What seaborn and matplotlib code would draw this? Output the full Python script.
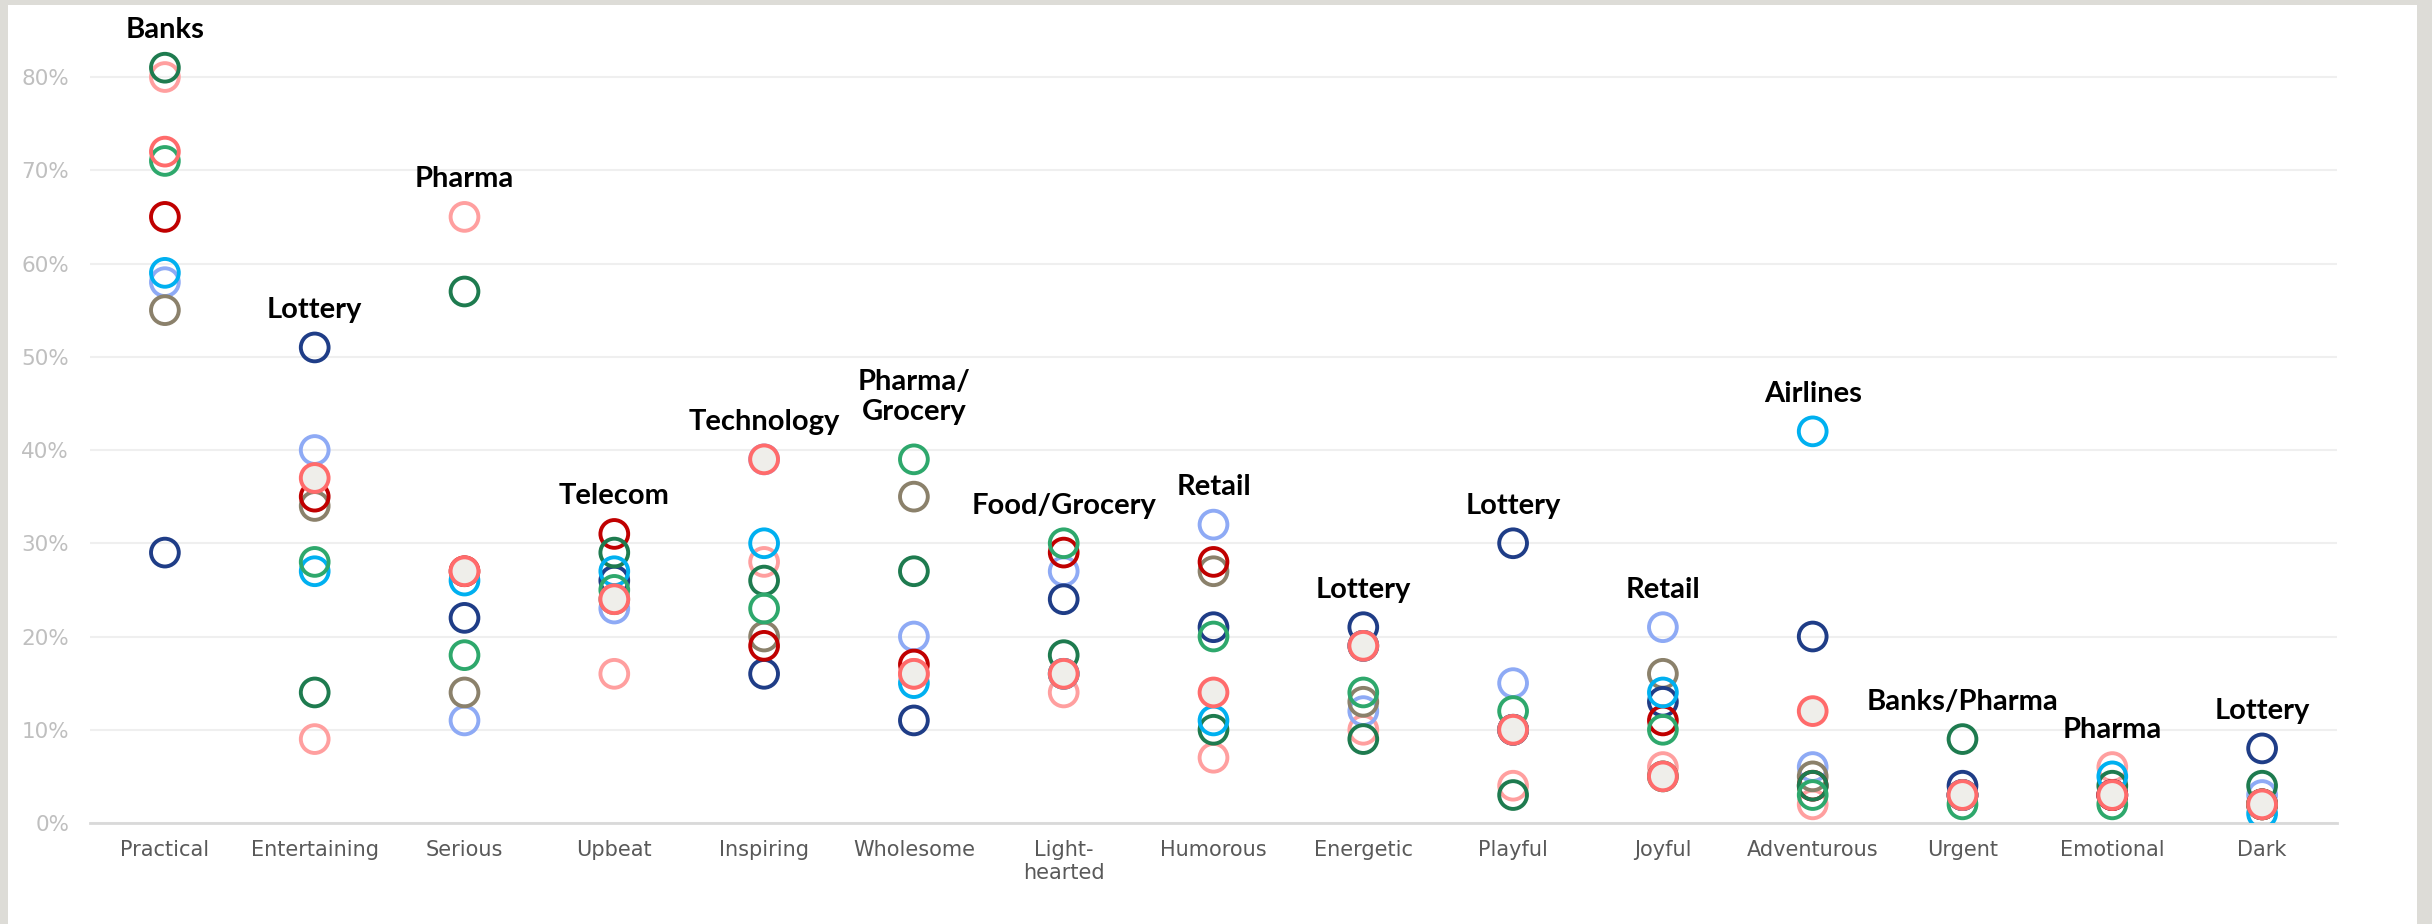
import numpy as np
import pandas as pd
import matplotlib
matplotlib.use("Agg")
import matplotlib.pyplot as plt
from matplotlib.patches import Rectangle
from matplotlib.ticker import PercentFormatter
import matplotlib.colors as mcolors
import seaborn as sns

# Personality traits on the x axis
traits = ["Practical", "Entertaining", "Serious", "Upbeat", "Inspiring", "Wholesome",
          "Light-\nhearted", "Humorous", "Energetic", "Playful", "Joyful",
          "Adventurous", "Urgent", "Emotional", "Dark"]

# Share of each industry's ads described by a trait (%)
pharma     = [80, 9, 65, 16, 28, 16, 14, 7, 10, 4, 6, 2, 3, 6, 2]
retail     = [58, 40, 11, 23, 39, 20, 27, 32, 12, 15, 21, 6, 3, 3, 3]
other      = [55, 34, 14, 24, 20, 35, 16, 27, 13, 10, 16, 5, 3, 3, 2]
lottery    = [29, 51, 22, 26, 16, 11, 24, 21, 21, 30, 13, 20, 4, 3, 8]
telecom    = [65, 35, 27, 31, 19, 17, 29, 28, 19, 10, 11, 4, 3, 3, 2]
banks      = [81, 14, 57, 29, 26, 27, 18, 10, 9, 3, 5, 4, 9, 4, 4]
airlines   = [59, 27, 26, 27, 30, 15, 16, 11, 19, 10, 14, 42, 3, 5, 1]
food       = [71, 28, 18, 25, 23, 39, 30, 20, 14, 12, 10, 3, 2, 2, 2]
technology = [72, 37, 27, 24, 39, 16, 16, 14, 19, 10, 5, 12, 3, 3, 2]

# Industry leading each trait
leaders = ["Banks", "Lottery", "Pharma", "Telecom", "Technology", "Pharma/\nGrocery",
           "Food/Grocery", "Retail", "Lottery", "Lottery", "Retail", "Airlines",
           "Banks/Pharma", "Pharma", "Lottery"]

# Drawing order (first = bottom layer)
series = [
    ("Pharma", pharma, "#ff9f9f"),
    ("Retail", retail, "#8eaaf5"),
    ("Other", other, "#8b816b"),
    ("Lottery", lottery, "#1f3d87"),
    ("Telecom", telecom, "#c00000"),
    ("Banks", banks, "#1e7b4f"),
    ("Airlines", airlines, "#00b0f0"),
    ("Food/Grocery", food, "#2ea86c"),
    ("Technology", technology, "#ff6b6b"),
]

rows = []
for name, vals, _ in series:
    for t, v in zip(traits, vals):
        rows.append({"industry": name, "trait": t, "share": v / 100})
df = pd.DataFrame(rows)
palette = {name: col for name, _, col in series}

sns.set_style("white")
plt.rcParams["font.family"] = ["DejaVu Sans"]

W, H = 2432, 924
fig = plt.figure(figsize=(W / 100, H / 100), dpi=100, facecolor="#dddcd7")
fig.patches.append(Rectangle((8 / W, 0), (2417 - 8) / W, 919 / H,
                             transform=fig.transFigure, facecolor="white",
                             edgecolor="none", zorder=-5))
ax = fig.add_axes([90 / W, 0.1093, (2337 - 90) / W, 0.8578])
ax.set_facecolor("white")

sns.scatterplot(data=df, x="trait", y="share", hue="industry", palette=palette,
                hue_order=[s[0] for s in series], s=400, linewidth=2.8,
                legend=False, ax=ax, zorder=3)

# Rings: edge in the industry colour, hollow centre; Technology gets a light fill
coll = ax.collections[0]
ring = coll.get_facecolors().copy()
coll.set_edgecolors(ring)
fill = np.zeros_like(ring)
mask = (df["industry"] == "Technology") & (df["trait"] != "Practical")
fill[mask.values] = mcolors.to_rgba("#efeeea")
coll.set_facecolors(fill)
coll.set_linewidths(2.8)

ax.set_xlim(-0.5, len(traits) - 0.5)
ax.set_ylim(0, 0.85)
ax.set_yticks(np.arange(0, 0.81, 0.1))
ax.yaxis.set_major_formatter(PercentFormatter(1.0, decimals=0))
ax.yaxis.grid(True, color="#efefef", lw=1.5)
ax.set_axisbelow(True)
for side in ("left", "right", "top"):
    ax.spines[side].set_visible(False)
ax.spines["bottom"].set_color("#d9d9d9")
ax.spines["bottom"].set_linewidth(2)
ax.tick_params(axis="y", length=0, pad=15, labelsize=15.5, labelcolor="#bfbfbf")
ax.tick_params(axis="x", length=0, pad=12, labelsize=15, labelcolor="#595959")
ax.set_xlabel("")
ax.set_ylabel("")

# Leading industry above the highest marker of each trait
tops = np.max(np.array([vals for _, vals, _ in series]), axis=0)
for i, (label, top) in enumerate(zip(leaders, tops)):
    nlines = label.count("\n") + 1
    ax.annotate(label, (i, top / 100), xytext=(0, 27 + 18 * (nlines - 1)),
                textcoords="offset points", ha="center", va="center",
                fontsize=21, fontweight="bold", family=["Lato", "DejaVu Sans"],
                color="black", annotation_clip=False, zorder=5)

fig.savefig("out.png", dpi=100, facecolor=fig.get_facecolor())
